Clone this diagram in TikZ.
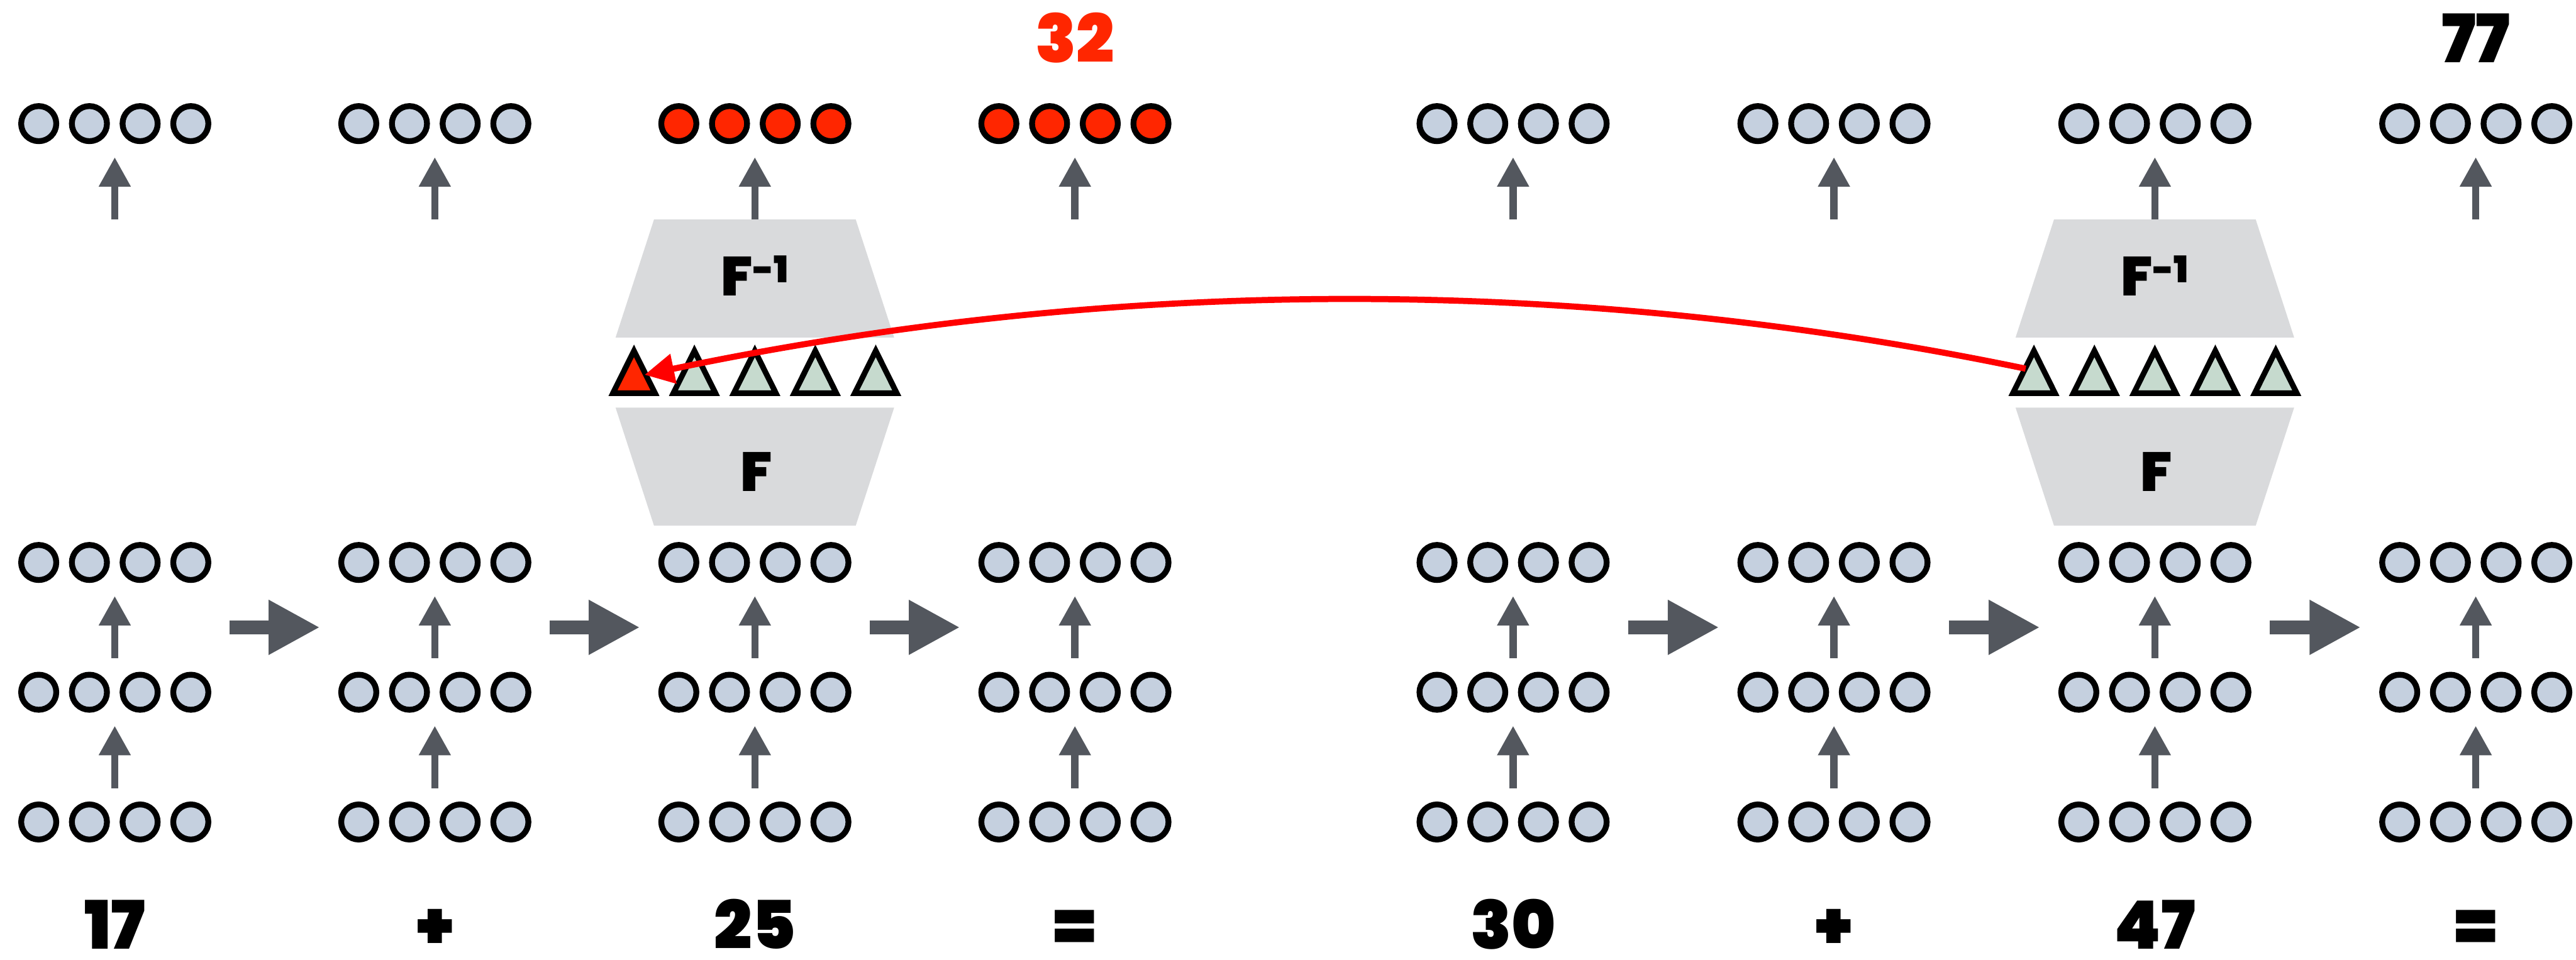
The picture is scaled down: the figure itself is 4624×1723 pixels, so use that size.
\documentclass[tikz,border=0pt]{standalone}
\usepackage{fontspec}
\usetikzlibrary{arrows.meta,calc}
% heavy display face for labels
\IfFontExistsTF{Poppins Black}{\newfontfamily\heavyface{Poppins Black}\def\heavy{\heavyface}}{%
  \IfFontExistsTF{Poppins ExtraBold}{\newfontfamily\heavyface{Poppins ExtraBold}\def\heavy{\heavyface}}{%
    \newfontfamily\heavyface{Poppins}\def\heavy{\heavyface\bfseries}}}
\definecolor{nodefill}{HTML}{C5D0DF}
\definecolor{trifill}{HTML}{C6DACE}
\definecolor{boxfill}{HTML}{D9DADC}
\definecolor{arrowgray}{HTML}{53575E}
\definecolor{hot}{HTML}{FF2600}
\definecolor{link}{HTML}{FF0000}
\begin{document}
\begin{tikzpicture}[x=1pt,y=-1pt,
  unit/.style={circle, draw=black, line width=10.5pt, fill=nodefill, minimum size=63pt, inner sep=0pt},
  rowhub/.style={rectangle, minimum width=348pt, minimum height=74pt, inner sep=0pt},
  uparrow/.style={draw=arrowgray, line width=13pt, -{Triangle[length=53pt,width=54pt]}},
  sidearrow/.style={draw=arrowgray, line width=24pt, -{Triangle[length=92pt,width=92pt]}, shorten <=32pt, shorten >=32pt},
  tri/.style={draw=black, line width=10pt, line join=miter, fill=trifill},
  boxlabel/.style={font=\heavy\fontsize{99pt}{99pt}\selectfont, inner sep=0pt, anchor=base},
  numlabel/.style={font=\heavy\fontsize{120pt}{120pt}\selectfont, inner sep=0pt, anchor=base},
  link/.style={draw=link, line width=11pt, -{Triangle[length=53pt,width=52pt]}}]
\useasboundingbox (0,0) rectangle (4624,1723);

% coding / decoding blocks with the latent triangles
\foreach \x/\n in {1355/a, 3868/b}{
  \fill[boxfill] (\x-181,394) -- (\x+181,394) -- (\x+250,606) -- (\x-250,606) -- cycle;
  \node[boxlabel] (inv-\n) at (\x,531) {F\raisebox{23pt}{\fontsize{66pt}{66pt}\selectfont -1}};
  \fill[boxfill] (\x-250,732) -- (\x+250,732) -- (\x+181,944) -- (\x-181,944) -- cycle;
  \node[boxlabel] (enc-\n) at (\x+3,882) {F};
  \foreach \k in {1,...,5}{
    \pgfmathsetmacro\tx{\x+(\k-3)*108.5}
    \coordinate (tri-\n-\k) at (\tx,680);
    \def\tc{trifill}
    \ifnum\k=1 \if a\n\def\tc{hot}\fi\fi
    \filldraw[tri, fill=\tc] (\tx-37.75,706) -- (\tx+37.75,706) -- (\tx,630) -- cycle;
  }
}

% columns of units
\foreach \g/\x in {1/206,2/780.5,3/1355,4/1929.5,5/2716,6/3292,7/3868,8/4444}{
  \foreach \r/\y in {0/222,1/1010,2/1243,3/1476}{
    \node[rowhub] (row-\g-\r) at (\x,\y) {};
    \def\fc{nodefill}
    \ifnum\r=0 \ifnum\g=3 \def\fc{hot}\fi \ifnum\g=4 \def\fc{hot}\fi\fi
    \foreach \k/\dx in {1/-136.5,2/-45.5,3/45.5,4/136.5}
      \node[unit, fill=\fc] (u-\g-\r-\k) at (\x+\dx,\y) {};
  }
  \node[rowhub] (mid-\g) at (\x,1126.5) {};
  \coordinate (feed-\g) at (\x,394);
  \draw[uparrow, shorten <=23pt, shorten >=23pt] (row-\g-3.north) -- (row-\g-2.south);
  \draw[uparrow, shorten <=24pt, shorten >=23pt] (row-\g-2.north) -- (row-\g-1.south);
  \draw[uparrow, shorten >=23pt] (feed-\g) -- (row-\g-0.south);
}

% steps between columns
\foreach \a/\b in {1/2,2/3,3/4,5/6,6/7,7/8}
  \draw[sidearrow] (mid-\a.east) -- (mid-\b.west);

% operands and results
\foreach \x/\t/\n in {206/17/a, 780.5/+/b, 1355/25/c, 1929.5/=/d, 2716/30/e, 3292/+/f, 3868/47/g, 4444/=/h}
  \node[numlabel] (term-\n) at (\x,1704) {\t};
\node[numlabel, text=hot] (res-a) at (1929.5,112) {32};
\node[numlabel] (res-b) at (4444,112) {77};

% transfer of the latent value
\draw[link] ($(tri-b-1)+(-15,-18)$) .. controls ($(tri-b-1)+(-842,-190)$) and ($(tri-a-1)+(847,-180)$) .. ($(tri-a-1)+(19,-7)$);
\end{tikzpicture}
\end{document}
